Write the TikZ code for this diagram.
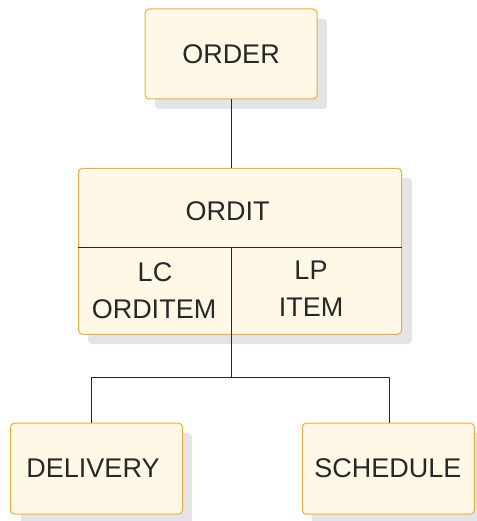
\documentclass[tikz,border=0pt]{standalone}
\usepackage{fontspec}
\setmainfont{Liberation Sans}
\definecolor{boxfill}{RGB}{255,248,230}
\definecolor{boxline}{RGB}{240,172,60}
\definecolor{shadowgray}{RGB}{228,228,230}
\definecolor{linegray}{RGB}{40,40,40}
\begin{document}
\begin{tikzpicture}[x=1pt,y=-1pt,
  segbox/.style={draw=boxline,fill=boxfill,rounded corners=4pt,line width=1pt,
    inner sep=0pt,minimum width=#1,minimum height=90pt},
  lbl/.style={font=\fontsize{27}{32}\selectfont,text=linegray,inner sep=0pt},
  conn/.style={draw=linegray,line width=0.8pt}]
\useasboundingbox (0,0) rectangle (476,521);
% shadows
\fill[shadowgray,rounded corners=4pt] (155,19) rectangle (327,109);
\fill[shadowgray,rounded corners=4pt] (88,178) rectangle (412,344);
\fill[shadowgray,rounded corners=4pt] (21,433) rectangle (192,524);
\fill[shadowgray,rounded corners=4pt] (312,433) rectangle (484,524);
% boxes
\node[segbox=172pt] (order) at (231,54) {};
\node[segbox=323pt,minimum height=166pt] (ordit) at (240,251.3) {};
\node[segbox=172pt,minimum height=91pt] (delivery) at (96.5,468.7) {};
\node[segbox=172pt,minimum height=91pt] (schedule) at (388.3,468.7) {};
% dividers
\coordinate (divl) at (ordit.west |- 0,247.3);
\coordinate (divr) at (ordit.east |- 0,247.3);
\draw[conn] (divl) -- (divr);
\coordinate (divtop) at (231.7,247.3);
\draw[conn] (divtop) -- (divtop |- ordit.south);
% texts
\node[lbl] (t-order) at (231,54) {ORDER};
\node[lbl] (t-ordit) at (227.5,211) {ORDIT};
\node[lbl] (t-lc) at (155,272) {LC};
\node[lbl] (t-orditem) at (154,309) {ORDITEM};
\node[lbl] (t-lp) at (311,270) {LP};
\node[lbl] (t-item) at (311,307) {ITEM};
\node[lbl] (t-delivery) at (93,468) {DELIVERY};
\node[lbl] (t-schedule) at (388,468) {SCHEDULE};
% connectors
\draw[conn] (order.south) -- (order.south |- ordit.north);
\coordinate (junc) at (231.7,377);
\coordinate (dtop) at (91.7,0);
\coordinate (stop) at (389,0);
\draw[conn] (divtop |- ordit.south) -- (junc);
\draw[conn] (dtop |- delivery.north) -- (dtop |- junc) -- (stop |- junc) -- (stop |- schedule.north);
\end{tikzpicture}
\end{document}
